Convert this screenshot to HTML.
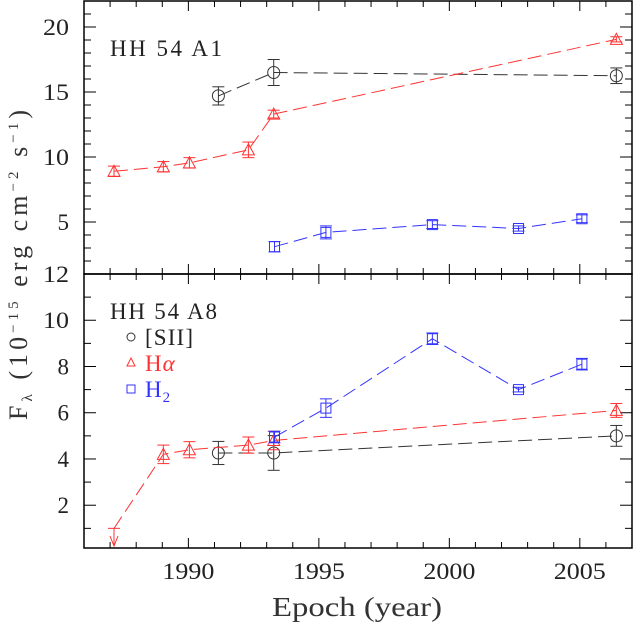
<!DOCTYPE html>
<html><head><meta charset="utf-8"><style>
html,body{margin:0;padding:0;background:#fff;}
svg{display:block;font-family:"Liberation Serif",serif;}
</style></head><body>
<svg id="c" width="633" height="625" xmlns="http://www.w3.org/2000/svg"></svg>
<script>
const xTicks=[1990,1995,2000,2005];
const topYTicks=[5,10,15,20];
const botYTicks=[2,4,6,8,10,12];
// Top panel HH 54 A1
const a1SiiX=[1991.15,1993.27,2006.4];
const a1SiiY=[14.7,16.5,16.25];
const a1SiiE=[0.7,1.0,0.6];
const a1HaX=[1987.15,1989.04,1990.04,1992.3,1993.27,2006.4];
const a1HaY=[8.9,9.25,9.55,10.55,13.3,19.05];
const a1HaE=[0.4,0.4,0.4,0.6,0.3,0.2];
const a1H2X=[1993.3,1995.27,1999.35,2002.65,2005.08];
const a1H2Y=[3.1,4.2,4.8,4.5,5.25];
const a1H2E=[0.4,0.5,0.3,0.2,0.3];
// Bottom panel HH 54 A8
const a8SiiX=[1991.15,1993.27,2006.4];
const a8SiiY=[4.26,4.26,5.0];
const a8SiiE=[0.5,0.75,0.45];
const a8HaX=[1987.15,1989.04,1990.04,1992.3,1993.27,2006.4];
const a8HaY=[1.0,4.2,4.4,4.6,4.8,6.1];
const a8HaE=[0,0.4,0.35,0.35,0.4,0.3];
const a8H2X=[1993.3,1995.27,1999.35,2002.65,2005.08];
const a8H2Y=[4.95,6.2,9.2,7.0,8.1];
const a8H2E=[0.25,0.4,0.25,0.1,0.25];

const svg=document.getElementById('c');
const NS='http://www.w3.org/2000/svg';
const L=84,R=632;
const X0=1986,X1=2007;
function sx(v){return L+(v-X0)/(X1-X0)*(R-L);}
const topP={t:1,b:274,y0:1,y1:22};
const botP={t:274,b:548,y0:0.15,y1:12};
function sy(p,v){return p.b-(v-p.y0)/(p.y1-p.y0)*(p.b-p.t);}
function el(tag,attrs,parent){const e=document.createElementNS(NS,tag);for(const k in attrs)e.setAttribute(k,attrs[k]);(parent||svg).appendChild(e);return e;}

function frame(p,name,showLabels,labelTop){
  const g=el('g',{});
  
  
  el('rect',{x:L,y:p.t,width:R-L,height:p.b-p.t,fill:'none',stroke:'#000','stroke-width':1.5},g);
  for(let yr=X0;yr<=X1;yr++){
    const x=sx(yr);const major=yr%5===0;const len=major?10:6;
    el('line',{x1:x,y1:p.b,x2:x,y2:p.b-len,stroke:'#000','stroke-width':1},g);
    el('line',{x1:x,y1:p.t,x2:x,y2:p.t+len,stroke:'#000','stroke-width':1},g);
  }
  for(let v=Math.ceil(p.y0);v<=p.y1;v++){
    const y=sy(p,v);const major=p===topP?(v%5===0):(v%2===0);const len=major?12:7;
    el('line',{x1:L,y1:y,x2:L+len,y2:y,stroke:'#000','stroke-width':1},g);
    el('line',{x1:R,y1:y,x2:R-len,y2:y,stroke:'#000','stroke-width':1},g);
  }
  const ticks=p===topP?topYTicks:botYTicks;
  ticks.forEach(v=>{
    const s=String(v);
    const attrs={x:69,y:sy(p,v)+8,'text-anchor':'end','font-size':23,fill:'#222'};
    if(s.length===2){attrs.textLength=26;attrs.lengthAdjust='spacingAndGlyphs';}
    const t=el('text',attrs,g);
    t.textContent=s;
    
    
  });
  if(showLabels){
    xTicks.forEach(v=>{
      const t=el('text',{x:sx(v),y:579,'text-anchor':'middle','font-size':23,fill:'#222',textLength:52,lengthAdjust:'spacingAndGlyphs'},g);
      t.textContent=String(v);
      
      
    });
  }
  const lab=el('text',{x:110,y:labelTop,'font-size':23,fill:'#222',textLength:name==='a1'?112:107,lengthAdjust:'spacing'},g);
  lab.textContent=name==='a1'?'HH 54 A1':'HH 54 A8';
  
  
  lab.setAttribute('xml:space','preserve');
}
frame(topP,'a1',false,56);
frame(botP,'a8',true,319);

function marker(g,type,x,y,color){
  if(type==='c') el('circle',{cx:x,cy:y,r:6,fill:'none',stroke:color,'stroke-width':1},g);
  else if(type==='t') el('polygon',{points:`${x},${y-6} ${x-6},${y+5} ${x+6},${y+5}`,fill:'none',stroke:color,'stroke-width':1},g);
  else el('rect',{x:x-5,y:y-5,width:10,height:10,fill:'none',stroke:color,'stroke-width':1},g);
}
function series(p,xs,ys,es,color,type,name,upperFirst){
  const g=el('g',{});
  
  
  const pts=xs.map((x,i)=>sx(x)+','+sy(p,ys[i])).join(' ');
  el('polyline',{points:pts,fill:'none',stroke:color,'stroke-width':1,'stroke-dasharray':'14,6'},g);
  xs.forEach((xv,i)=>{
    const x=sx(xv),y=sy(p,ys[i]);
    if(upperFirst&&i===0){
      el('line',{x1:x-6,y1:y,x2:x+6,y2:y,stroke:color,'stroke-width':1},g);
      el('line',{x1:x,y1:y,x2:x,y2:p.b-2,stroke:color,'stroke-width':1},g);
      el('polyline',{points:`${x-4},${p.b-12} ${x},${p.b-2} ${x+4},${p.b-12}`,fill:'none',stroke:color,'stroke-width':1},g);
      return;
    }
    const y1=sy(p,ys[i]+es[i]),y2=sy(p,ys[i]-es[i]);
    el('line',{x1:x,y1:y1,x2:x,y2:y2,stroke:color,'stroke-width':1},g);
    el('line',{x1:x-6,y1:y1,x2:x+6,y2:y1,stroke:color,'stroke-width':1},g);
    el('line',{x1:x-6,y1:y2,x2:x+6,y2:y2,stroke:color,'stroke-width':1},g);
    const m=el('g',{},g);
    
    
    marker(m,type,x,y,color);
  });
}
series(topP,a1SiiX,a1SiiY,a1SiiE,'#333','c','a1-sii-series',false);
series(topP,a1HaX,a1HaY,a1HaE,'#f33','t','a1-halpha-series',false);
series(topP,a1H2X,a1H2Y,a1H2E,'#33f','s','a1-h2-series',false);
series(botP,a8SiiX,a8SiiY,a8SiiE,'#333','c','a8-sii-series',false);
series(botP,a8HaX,a8HaY,a8HaE,'#f33','t','a8-halpha-series',true);
series(botP,a8H2X,a8H2Y,a8H2E,'#33f','s','a8-h2-series',false);
</script>
<div style="position:absolute;left:0;top:0;width:633px;height:625px;pointer-events:none;">
<svg width="633" height="625" style="position:absolute;left:0;top:0;font-family:'Liberation Serif',serif;">
  <g>
    <circle cx="131" cy="337" r="4" fill="none" stroke="#333" stroke-width="1"/>
    <text x="145" y="345" font-size="23" fill="#222" textLength="48" lengthAdjust="spacing">[SII]</text>
    <polygon points="131,358 127,366 135,366" fill="none" stroke="#f33" stroke-width="1"/>
    <text x="145" y="371" font-size="23" fill="#f33" letter-spacing="1">H<tspan font-style="italic">α</tspan></text>
    <rect x="127" y="385" width="8" height="8" fill="none" stroke="#33f" stroke-width="1"/>
    <text x="145" y="397" font-size="23" fill="#33f" letter-spacing="1">H<tspan font-size="15" dy="5">2</tspan></text>
  </g>
  <text x="272" y="616" font-size="27" fill="#333" textLength="170" lengthAdjust="spacingAndGlyphs" xml:space="preserve">Epoch (year)</text>
  <text transform="translate(27,420) rotate(-90)" font-size="26" fill="#333" textLength="310" lengthAdjust="spacing" xml:space="preserve">F<tspan font-size="15" dy="5">λ</tspan><tspan dy="-5"> (10</tspan><tspan font-size="15" dy="-9">−15</tspan><tspan dy="9"> erg cm</tspan><tspan font-size="15" dy="-9">−2</tspan><tspan dy="9"> s</tspan><tspan font-size="15" dy="-9">−1</tspan><tspan dy="9">)</tspan></text>
</svg>
</div>
</body></html>
